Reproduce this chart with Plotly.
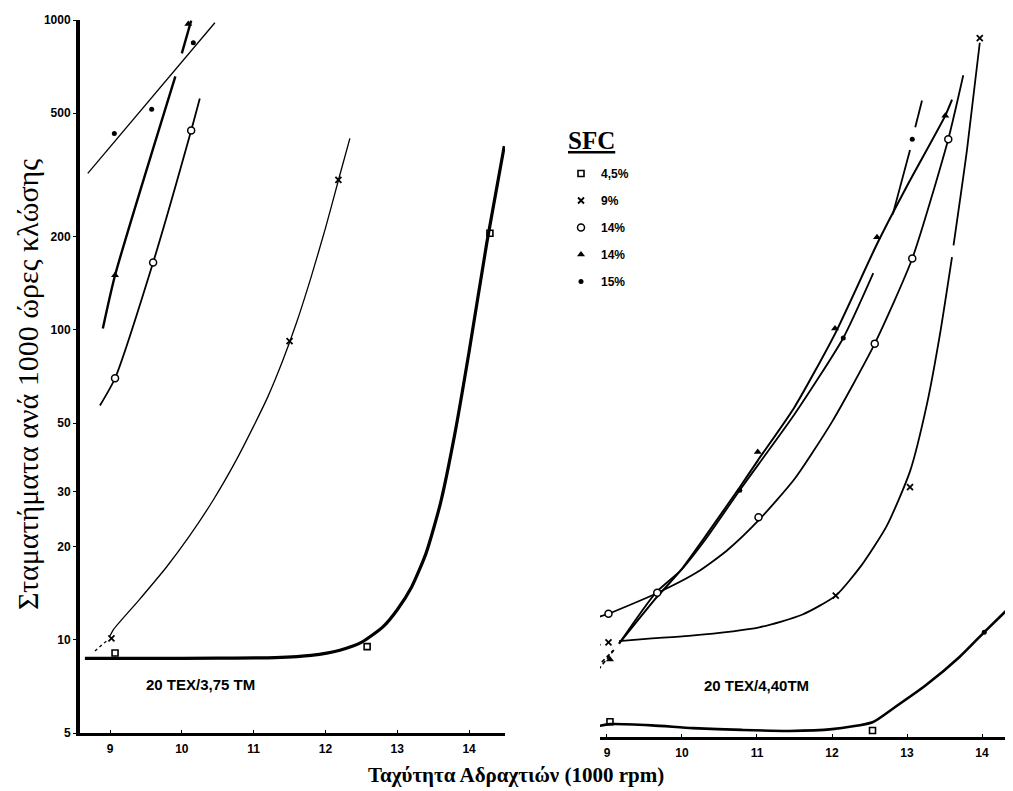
import plotly.graph_objects as go

# ---------------- data ----------------
# Left panel: 20 TEX / 3,75 TM
L_sq_x = [8.65, 9.5, 10.5, 11.3, 11.8, 12.2, 12.5, 12.8, 13.0, 13.2, 13.4, 13.6, 13.8, 14.0, 14.25, 14.49]
L_sq_y = [8.7, 8.7, 8.72, 8.76, 8.9, 9.25, 9.8, 11.0, 12.5, 14.8, 19.0, 27.5, 46, 85, 193, 392]
L_sq_mx = [9.07, 12.58, 14.29]
L_sq_my = [9.06, 9.5, 205]

L_x_dash_x = [8.79, 8.95]
L_x_dash_y = [9.2, 9.9]
L_x_x = [9.0, 9.05, 9.4, 9.79, 10.1, 10.44, 10.75, 11.0, 11.2, 11.4, 11.6, 11.8, 12.0, 12.2, 12.34]
L_x_y = [10.3, 10.8, 13.4, 17.2, 21.5, 28.3, 37.7, 48.9, 61, 79, 106, 148, 213, 316, 415]
L_x_mx = [9.02, 11.5, 12.18]
L_x_my = [10.1, 92, 305]

L_ci_x = [8.86, 9.07, 9.6, 10.13, 10.25]
L_ci_y = [57, 69.8, 165, 440, 558]
L_ci_mx = [9.07, 9.6, 10.13]
L_ci_my = [69.8, 165, 440]

L_tr_x = [8.9, 9.07, 9.91, None, 10.0, 10.13]
L_tr_y = [101, 150, 658, None, 780, 995]
L_tr_mx = [9.07, 10.09]
L_tr_my = [150, 970]

L_dot_x = [8.69, 10.46]
L_dot_y = [320, 980]
L_dot_mx = [9.06, 9.58, 10.16]
L_dot_my = [430, 515, 845]

# Right panel: 20 TEX / 4,40 TM
R_sq_x = [8.82, 9.04, 9.6, 10.14, 10.8, 11.43, 12.0, 12.54, 12.81, 13.25, 13.7, 14.03, 14.41]
R_sq_y = [5.38, 5.5, 5.45, 5.34, 5.27, 5.23, 5.3, 5.58, 6.17, 7.34, 9.06, 10.9, 13.4]
R_sq_mx = [9.04, 12.54]
R_sq_my = [5.6, 5.25]

R_x_dash_x = [8.8, 8.95]
R_x_dash_y = [9.76, 10.0]
R_x_x = [9.16, 9.6, 10.09, 11.03, 11.6, 12.05, 12.4, 12.73, 13.04, 13.27, 13.44, 13.6, None, 13.62, 13.8, 13.97]
R_x_y = [10.2, 10.4, 10.6, 11.3, 12.4, 14.3, 18.0, 24, 36, 60, 100, 177, None, 193, 393, 870]
R_x_mx = [9.02, 12.05, 13.04, 13.97]
R_x_my = [10.1, 14.3, 32, 900]

R_ci_x = [8.89, 9.02, 9.65, 10.2, 10.6, 11.02, 11.5, 12.0, 12.57, 13.07, 13.55, 13.75]
R_ci_y = [12.2, 12.5, 14.5, 17, 20, 25, 34, 52, 93, 175, 425, 683]
R_ci_mx = [9.02, 9.67, 11.02, 12.57, 13.07, 13.55]
R_ci_my = [12.5, 14.6, 25.6, 93, 175, 425]

R_tr_dash_x = [8.77, 9.1]
R_tr_dash_y = [7.6, 9.6]
R_tr_x = [9.16, 9.65, 9.98, 10.3, 10.77, 11.01, 11.5, 12.04, 12.6, 13.0, 13.51, 13.6]
R_tr_y = [10.0, 14.0, 17.2, 22, 32, 39, 58, 100, 195, 300, 506, 570]
R_tr_mx = [9.04, 11.01, 12.04, 12.6, 13.51]
R_tr_my = [8.9, 41.6, 104, 205, 506]

R_dot_dash_x = [8.8, 9.08]
R_dot_dash_y = [8.1, 9.5]
R_dot_x = [9.16, 9.65, 9.98, 10.3, 10.77, 11.5, 12.15, 12.55, None, 12.81, 13.04, None, 13.11, 13.2]
R_dot_y = [10.0, 14.6, 17.2, 21.5, 31.3, 55, 97, 157, None, 243, 392, None, 464, 566]
R_dot_mx = [10.77, 12.15, 13.07, 14.03]
R_dot_my = [31.3, 97, 425, 10.9]

legend_names = ["4,5%", "9%", "14%", "14%", "15%"]
y_tickvals = [5, 10, 20, 30, 50, 100, 200, 500, 1000]
y_ticktext = ["5", "10", "20", "30", "50", "100", "200", "500", "1000"]
x_tickvals = [9, 10, 11, 12, 13, 14]
x_ticktext = ["9", "10", "11", "12", "13", "14"]

y_title = "Σταματήματα ανά 1000 ώρες κλώσης"
x_title = "Ταχύτητα Αδραχτιών (1000 rpm)"
legend_title = "SFC"
left_label = "20 TEX/3,75 TM"
right_label = "20 TEX/4,40TM"

# ---------------- styles ----------------
BLACK = "black"
SERIF = "Liberation Serif, Times New Roman, serif"
SANS = "Liberation Sans, Arial, sans-serif"
NARROW = "Liberation Sans Narrow, Liberation Sans, Arial, sans-serif"

sym = {
    "sq": dict(symbol="square-open", size=6, color=BLACK, line=dict(width=1.6, color=BLACK)),
    "x": dict(symbol="x-thin", size=6, color=BLACK, line=dict(width=1.8, color=BLACK)),
    "ci": dict(symbol="circle", size=7, color="white", line=dict(width=1.5, color=BLACK)),
    "tr": dict(symbol="triangle-up", size=7, color=BLACK, line=dict(width=0)),
    "dot": dict(symbol="circle", size=5, color=BLACK, line=dict(width=0)),
}

fig = go.Figure()


def line(x, y, w, xa, ya, dash="solid"):
    fig.add_trace(go.Scatter(x=x, y=y, mode="lines", xaxis=xa, yaxis=ya,
                             line=dict(color=BLACK, width=w, shape="spline", smoothing=0.6, dash=dash),
                             connectgaps=False, showlegend=False, hoverinfo="skip"))


def marks(x, y, key, xa, ya):
    fig.add_trace(go.Scatter(x=x, y=y, mode="markers", xaxis=xa, yaxis=ya,
                             marker=sym[key], showlegend=False, hoverinfo="skip"))


# left panel
line(L_sq_x, L_sq_y, 3.2, "x", "y")
line(L_x_dash_x, L_x_dash_y, 1.3, "x", "y", dash="3px,3px")
line(L_x_x, L_x_y, 1.3, "x", "y")
line(L_ci_x, L_ci_y, 1.8, "x", "y")
line(L_tr_x, L_tr_y, 2.4, "x", "y")
line(L_dot_x, L_dot_y, 1.3, "x", "y")
marks(L_sq_mx, L_sq_my, "sq", "x", "y")
marks(L_x_mx, L_x_my, "x", "x", "y")
marks(L_ci_mx, L_ci_my, "ci", "x", "y")
marks(L_tr_mx, L_tr_my, "tr", "x", "y")
marks(L_dot_mx, L_dot_my, "dot", "x", "y")

# right panel
line(R_sq_x, R_sq_y, 2.6, "x2", "y2")
line(R_x_dash_x, R_x_dash_y, 1.6, "x2", "y2", dash="3px,3px")
line(R_x_x, R_x_y, 1.8, "x2", "y2")
line(R_ci_x, R_ci_y, 1.8, "x2", "y2")
line(R_tr_dash_x, R_tr_dash_y, 1.6, "x2", "y2", dash="4px,3px")
line(R_tr_x, R_tr_y, 2.0, "x2", "y2")
line(R_dot_dash_x, R_dot_dash_y, 1.6, "x2", "y2", dash="4px,3px")
line(R_dot_x, R_dot_y, 1.8, "x2", "y2")
marks(R_sq_mx, R_sq_my, "sq", "x2", "y2")
marks(R_x_mx, R_x_my, "x", "x2", "y2")
marks(R_ci_mx, R_ci_my, "ci", "x2", "y2")
marks(R_tr_mx, R_tr_my, "tr", "x2", "y2")
marks(R_dot_mx, R_dot_my, "dot", "x2", "y2")

# legend-only entries
for name, key in zip(legend_names, ["sq", "x", "ci", "tr", "dot"]):
    fig.add_trace(go.Scatter(x=[None], y=[None], mode="markers", name=name, marker=sym[key],
                             legendgroup=name + key, showlegend=True, xaxis="x", yaxis="y"))

# ---------------- layout ----------------
# the page body has an 8px default margin; lay out in window pixels
OFF = 8
W, H = 1013 - OFF, 791 - OFF
ML, MR, MT, MB = 80 - OFF, 0, 20 - OFF, 54
PW = W - ML - MR
PH = H - MT - MB


def px_x(p):
    return (p - OFF - ML) / PW


def px_y(p):
    return (H - MB - (p - OFF)) / PH


tickfont = dict(family=SANS, size=12, color=BLACK, weight="bold")

fig.update_layout(
    width=W, height=H,
    margin=dict(l=ML, r=MR, t=MT, b=MB),
    paper_bgcolor="white", plot_bgcolor="white",
    xaxis=dict(domain=[0, px_x(505)], range=[8.582, 14.5], anchor="y",
               tickvals=x_tickvals, ticktext=x_ticktext, tickfont=tickfont,
               showline=True, linecolor=BLACK, linewidth=3, ticks="inside", ticklen=3,
               tickcolor=BLACK, showgrid=False, zeroline=False, ticklabelstandoff=3),
    yaxis=dict(domain=[4 / PH, 1], type="log", range=[0.69897, 3.0], anchor="x",
               tickvals=y_tickvals, ticktext=y_ticktext, tickfont=tickfont,
               showline=True, linecolor=BLACK, linewidth=4, ticks="outside", ticklen=3,
               tickcolor=BLACK, showgrid=False, zeroline=False, ticklabelstandoff=0),
    xaxis2=dict(domain=[px_x(600), 1], range=[8.907, 14.413], anchor="y2",
                tickvals=x_tickvals, ticktext=x_ticktext, tickfont=tickfont,
                showline=True, linecolor=BLACK, linewidth=3, ticks="inside", ticklen=3,
                tickcolor=BLACK, showgrid=False, zeroline=False, ticklabelstandoff=3),
    yaxis2=dict(domain=[0, 1 - 4 / PH], type="log", range=[0.69897, 3.0], anchor="x2",
                visible=False),
    showlegend=True,
    legend=dict(x=px_x(561), y=px_y(159), xanchor="left", yanchor="top",
                bgcolor="rgba(0,0,0,0)", tracegroupgap=8,
                font=dict(family=SANS, size=12, color=BLACK, weight="bold")),
    annotations=[
        dict(text="<u>" + legend_title + "</u>", xref="paper", yref="paper",
             x=px_x(591), y=px_y(140), showarrow=False, xanchor="center", yanchor="middle",
             font=dict(family=SERIF, size=25, color=BLACK, weight="bold")),
        dict(text=y_title, xref="paper", yref="paper", x=px_x(27), y=px_y(385),
             textangle=-90, showarrow=False, xanchor="center", yanchor="middle",
             font=dict(family=SERIF, size=30, color=BLACK)),
        dict(text=x_title, xref="paper", yref="paper", x=px_x(516), y=px_y(775),
             showarrow=False, xanchor="center", yanchor="middle",
             font=dict(family=SERIF, size=21, color=BLACK, weight="bold")),
        dict(text=left_label, xref="x", yref="y", x=10.26, y=0.854, showarrow=False,
             xanchor="center", yanchor="middle",
             font=dict(family=NARROW, size=15, color=BLACK, weight="bold")),
        dict(text=right_label, xref="x2", yref="y2", x=11.0, y=0.866, showarrow=False,
             xanchor="center", yanchor="middle",
             font=dict(family=NARROW, size=15, color=BLACK, weight="bold")),
    ],
)

fig.write_html("out.html")
